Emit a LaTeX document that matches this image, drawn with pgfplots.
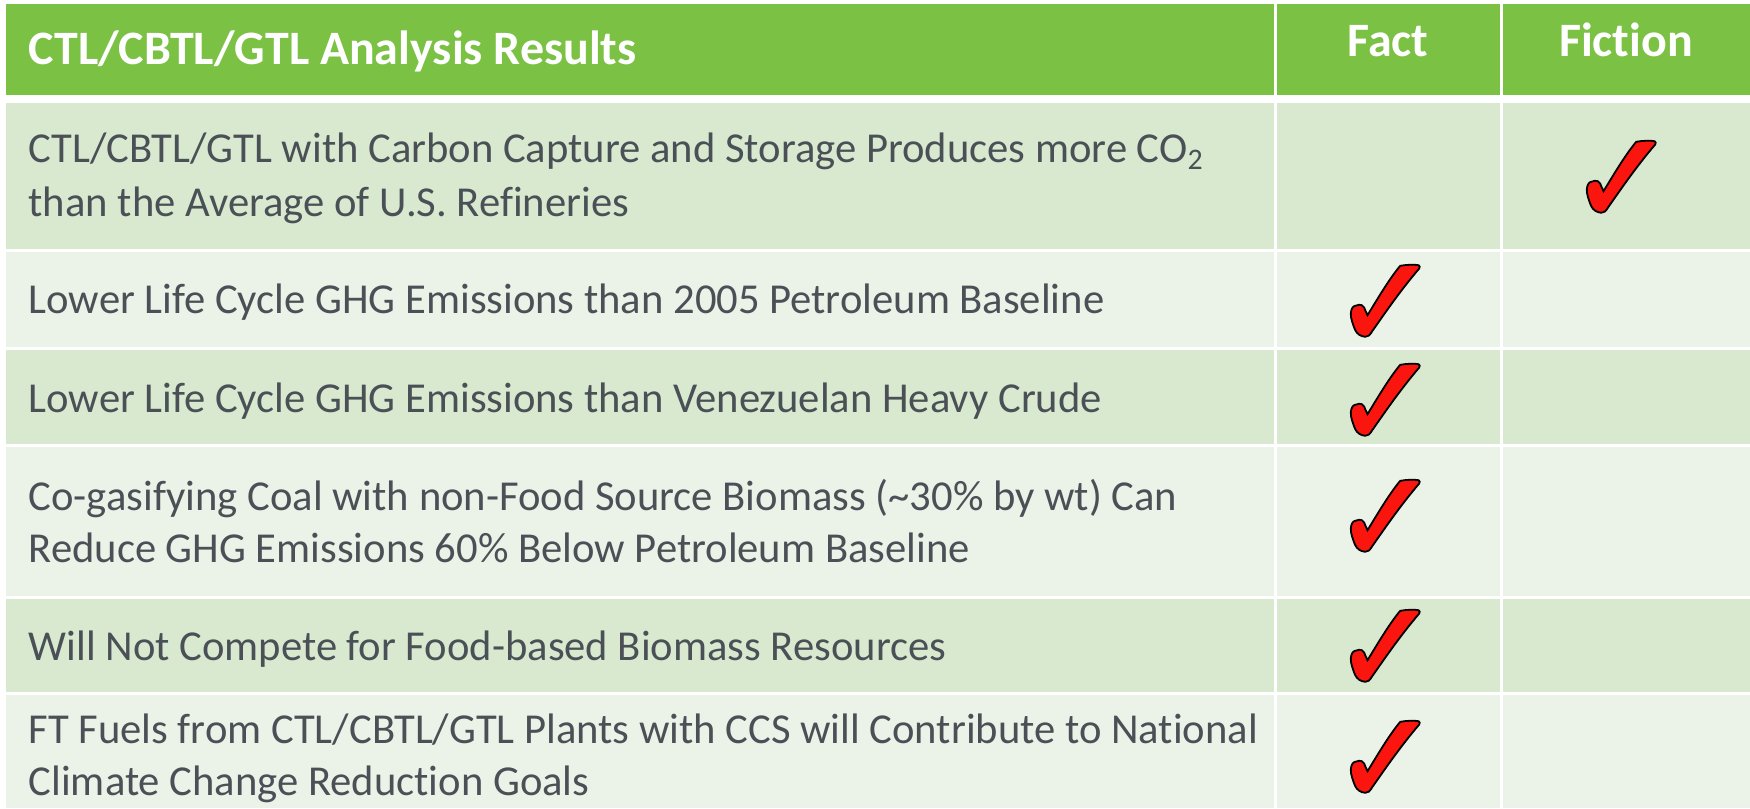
\documentclass[border=0pt]{standalone}
\usepackage{fontspec}
\setmainfont{Carlito}[Ligatures=NoCommon]
\usepackage{pgfplots}
\pgfplotsset{compat=1.18}
\definecolor{hdr}{RGB}{123,193,68}
\definecolor{rowA}{RGB}{216,233,208}
\definecolor{rowB}{RGB}{235,243,232}
\definecolor{txt}{RGB}{74,80,86}
\definecolor{chk}{RGB}{250,22,14}
\newcommand{\bodyfont}{\fontsize{12.13}{15}\selectfont}
\newcommand{\hdrfont}{\bfseries\fontsize{13.65}{17}\selectfont}
% check mark shape, units: 1 px = 0.1 mm
\pgfdeclareplotmark{check}{%
  \pgfpathmoveto{\pgfpoint{1.52mm}{3.52mm}}
  \pgfpathcurveto{\pgfpoint{2.2mm}{3.65mm}}{\pgfpoint{3.0mm}{3.65mm}}{\pgfpoint{3.35mm}{3.58mm}}
  \pgfpathcurveto{\pgfpoint{3.5mm}{3.55mm}}{\pgfpoint{3.5mm}{3.35mm}}{\pgfpoint{3.42mm}{3.25mm}}
  \pgfpathcurveto{\pgfpoint{1.5mm}{1.0mm}}{\pgfpoint{0.0mm}{-1.2mm}}{\pgfpoint{-1.32mm}{-3.08mm}}
  \pgfpathcurveto{\pgfpoint{-1.5mm}{-3.4mm}}{\pgfpoint{-1.7mm}{-3.6mm}}{\pgfpoint{-1.98mm}{-3.58mm}}
  \pgfpathcurveto{\pgfpoint{-2.4mm}{-3.55mm}}{\pgfpoint{-2.8mm}{-3.3mm}}{\pgfpoint{-2.98mm}{-2.92mm}}
  \pgfpathcurveto{\pgfpoint{-3.2mm}{-2.4mm}}{\pgfpoint{-3.45mm}{-1.7mm}}{\pgfpoint{-3.42mm}{-1.25mm}}
  \pgfpathcurveto{\pgfpoint{-3.4mm}{-0.8mm}}{\pgfpoint{-3.2mm}{-0.5mm}}{\pgfpoint{-2.98mm}{-0.48mm}}
  \pgfpathcurveto{\pgfpoint{-2.7mm}{-0.35mm}}{\pgfpoint{-2.45mm}{-0.35mm}}{\pgfpoint{-2.32mm}{-0.42mm}}
  \pgfpathcurveto{\pgfpoint{-2.1mm}{-0.55mm}}{\pgfpoint{-2.0mm}{-0.8mm}}{\pgfpoint{-1.98mm}{-0.92mm}}
  \pgfpathlineto{\pgfpoint{-1.75mm}{-1.42mm}}
  \pgfpathcurveto{\pgfpoint{-1.0mm}{-0.2mm}}{\pgfpoint{0.4mm}{2.2mm}}{\pgfpoint{1.52mm}{3.52mm}}
  \pgfpathclose
  \pgfusepathqfillstroke
}
\begin{document}
\begin{tikzpicture}
\begin{axis}[hide axis, scale only axis, width=175mm, height=80.8mm,
  xmin=0, xmax=1750, ymin=0, ymax=808, y dir=reverse, clip=false]
% frame for bounding box
\addplot[draw=none, forget plot] coordinates {(0,0) (1750,808)};
% header cells
\addplot[fill=hdr, draw=none] coordinates {(6,4) (1274,4) (1274,95) (6,95)} --cycle;
\addplot[fill=hdr, draw=none] coordinates {(1277,4) (1500,4) (1500,95) (1277,95)} --cycle;
\addplot[fill=hdr, draw=none] coordinates {(1503,4) (1750,4) (1750,95) (1503,95)} --cycle;
% row 1
\addplot[fill=rowA, draw=none] coordinates {(6,103) (1274,103) (1274,249) (6,249)} --cycle;
\addplot[fill=rowA, draw=none] coordinates {(1277,103) (1500,103) (1500,249) (1277,249)} --cycle;
\addplot[fill=rowA, draw=none] coordinates {(1503,103) (1750,103) (1750,249) (1503,249)} --cycle;
% row 2
\addplot[fill=rowB, draw=none] coordinates {(6,252) (1274,252) (1274,347) (6,347)} --cycle;
\addplot[fill=rowB, draw=none] coordinates {(1277,252) (1500,252) (1500,347) (1277,347)} --cycle;
\addplot[fill=rowB, draw=none] coordinates {(1503,252) (1750,252) (1750,347) (1503,347)} --cycle;
% row 3
\addplot[fill=rowA, draw=none] coordinates {(6,350) (1274,350) (1274,444) (6,444)} --cycle;
\addplot[fill=rowA, draw=none] coordinates {(1277,350) (1500,350) (1500,444) (1277,444)} --cycle;
\addplot[fill=rowA, draw=none] coordinates {(1503,350) (1750,350) (1750,444) (1503,444)} --cycle;
% row 4
\addplot[fill=rowB, draw=none] coordinates {(6,447) (1274,447) (1274,596) (6,596)} --cycle;
\addplot[fill=rowB, draw=none] coordinates {(1277,447) (1500,447) (1500,596) (1277,596)} --cycle;
\addplot[fill=rowB, draw=none] coordinates {(1503,447) (1750,447) (1750,596) (1503,596)} --cycle;
% row 5
\addplot[fill=rowA, draw=none] coordinates {(6,599) (1274,599) (1274,692) (6,692)} --cycle;
\addplot[fill=rowA, draw=none] coordinates {(1277,599) (1500,599) (1500,692) (1277,692)} --cycle;
\addplot[fill=rowA, draw=none] coordinates {(1503,599) (1750,599) (1750,692) (1503,692)} --cycle;
% row 6
\addplot[fill=rowB, draw=none] coordinates {(6,695) (1274,695) (1274,808) (6,808)} --cycle;
\addplot[fill=rowB, draw=none] coordinates {(1277,695) (1500,695) (1500,808) (1277,808)} --cycle;
\addplot[fill=rowB, draw=none] coordinates {(1503,695) (1750,695) (1750,808) (1503,808)} --cycle;
% check marks: Fact column
\addplot[only marks, mark=check, mark options={fill=chk, draw=black, line width=0.18mm}]
  coordinates {(1385,301) (1385,400) (1385,516) (1385,646) (1385,757)};
% check marks: Fiction column
\addplot[only marks, mark=check, mark options={fill=chk, draw=black, line width=0.18mm}]
  coordinates {(1621,177)};
% header text
\node[anchor=base west, inner sep=0pt, text=white, font=\hdrfont] at (axis cs:28,65) {CTL/CBTL/GTL Analysis Results};
\node[anchor=base, inner sep=0pt, text=white, font=\hdrfont] at (axis cs:1388,57) {Fact};
\node[anchor=base, inner sep=0pt, text=white, font=\hdrfont] at (axis cs:1626,57) {Fiction};
% body text
\node[anchor=base west, inner sep=0pt, text=txt, font=\bodyfont] at (axis cs:28,163) {CTL/CBTL/GTL with Carbon Capture and Storage Produces more CO\textsubscript{2}};
\node[anchor=base west, inner sep=0pt, text=txt, font=\bodyfont] at (axis cs:28,216) {than the Average of U.S. Refineries};
\node[anchor=base west, inner sep=0pt, text=txt, font=\bodyfont] at (axis cs:28,313) {Lower Life Cycle GHG Emissions than 2005 Petroleum Baseline};
\node[anchor=base west, inner sep=0pt, text=txt, font=\bodyfont] at (axis cs:28,412) {Lower Life Cycle GHG Emissions than Venezuelan Heavy Crude};
\node[anchor=base west, inner sep=0pt, text=txt, font=\bodyfont] at (axis cs:28,510) {Co-gasifying Coal with non-Food Source Biomass (\textasciitilde30\% by wt) Can};
\node[anchor=base west, inner sep=0pt, text=txt, font=\bodyfont] at (axis cs:28,562) {Reduce GHG Emissions 60\% Below Petroleum Baseline};
\node[anchor=base west, inner sep=0pt, text=txt, font=\bodyfont] at (axis cs:28,660) {Will Not Compete for Food-based Biomass Resources};
\node[anchor=base west, inner sep=0pt, text=txt, font=\bodyfont] at (axis cs:28,743) {FT Fuels from CTL/CBTL/GTL Plants with CCS will Contribute to National};
\node[anchor=base west, inner sep=0pt, text=txt, font=\bodyfont] at (axis cs:28,795) {Climate Change Reduction Goals};
\end{axis}
\end{tikzpicture}
\end{document}
